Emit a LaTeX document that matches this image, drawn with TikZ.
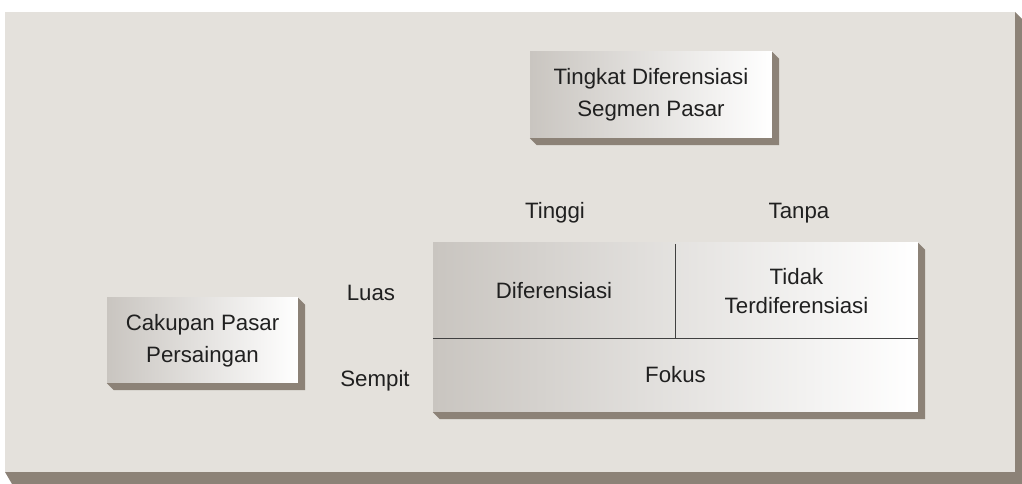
\documentclass[tikz,border=0pt]{standalone}
\usepackage{fontspec}
\setmainfont{Liberation Sans}
\usepackage{tikz}
\usetikzlibrary{positioning}
\definecolor{panelbg}{HTML}{E4E1DC}
\definecolor{shadowcol}{HTML}{8C8277}
\definecolor{boxgray}{HTML}{C9C5C0}
\definecolor{inkgray}{HTML}{202020}

\begin{document}
\begin{tikzpicture}[x=0.03cm,y=-0.03cm,
                    font=\fontsize{19}{27.5}\selectfont,text=inkgray]
  \tikzstyle{box}=[rectangle, inner sep=0pt, align=center,
    left color=boxgray, right color=white]
  \tikzstyle{cell}=[rectangle, inner sep=0pt, align=center]
  \tikzstyle{axistext}=[inner sep=1pt]
  \tikzstyle{divider}=[draw=black!75, line width=0.8pt]
  \useasboundingbox (0,0) rectangle (1022,484);
  % panel with its shadow
  \fill[shadowcol] (1015,12) -- (1022,19) -- (1022,484) -- (12,484)
        -- (5,472) -- (1015,472) -- cycle;
  \fill[panelbg] (5,12) rectangle (1015,472);
  % boxes
  \node[box, minimum width=242*0.03cm, minimum height=86*0.03cm]
        (segmen) at (651,95) {Tingkat Diferensiasi\\Segmen Pasar};
  \node[box, minimum width=191*0.03cm, minimum height=85*0.03cm]
        (cakupan) at (202.5,340.5) {Cakupan Pasar\\Persaingan};
  \node[box, minimum width=485*0.03cm, minimum height=169*0.03cm]
        (matriks) at (675.5,327.5) {};
  \foreach \b in {segmen,cakupan,matriks}
    \fill[shadowcol] (\b.north east) -- ([shift={(7,7)}]\b.north east)
        -- ([shift={(7,7)}]\b.south east) -- ([shift={(7,7)}]\b.south west)
        -- (\b.south west) -- (\b.south east) -- cycle;
  % cells of the matrix
  \node[cell, minimum width=242*0.03cm, minimum height=94*0.03cm]
        (dif) at (554,291) {Diferensiasi};
  \node[cell, minimum width=243*0.03cm, minimum height=94*0.03cm,
        font=\fontsize{19}{25}\selectfont]
        (tidak) at (796.5,291) {Tidak\\Terdiferensiasi};
  \node[cell, minimum width=485*0.03cm, minimum height=75*0.03cm]
        (fokus) at (675.5,374.5) {Fokus};
  \draw[divider] (dif.south west) -- (tidak.south east);
  \draw[divider] (dif.north east) -- (dif.south east);
  % axis texts
  \node[axistext] (tinggi) at (555,213) {Tinggi};
  \node[axistext] (tanpa) at (799,213) {Tanpa};
  \node[axistext] (luas) at (371,293) {Luas};
  \node[axistext] (sempit) at (375,381) {Sempit};
\end{tikzpicture}
\end{document}
